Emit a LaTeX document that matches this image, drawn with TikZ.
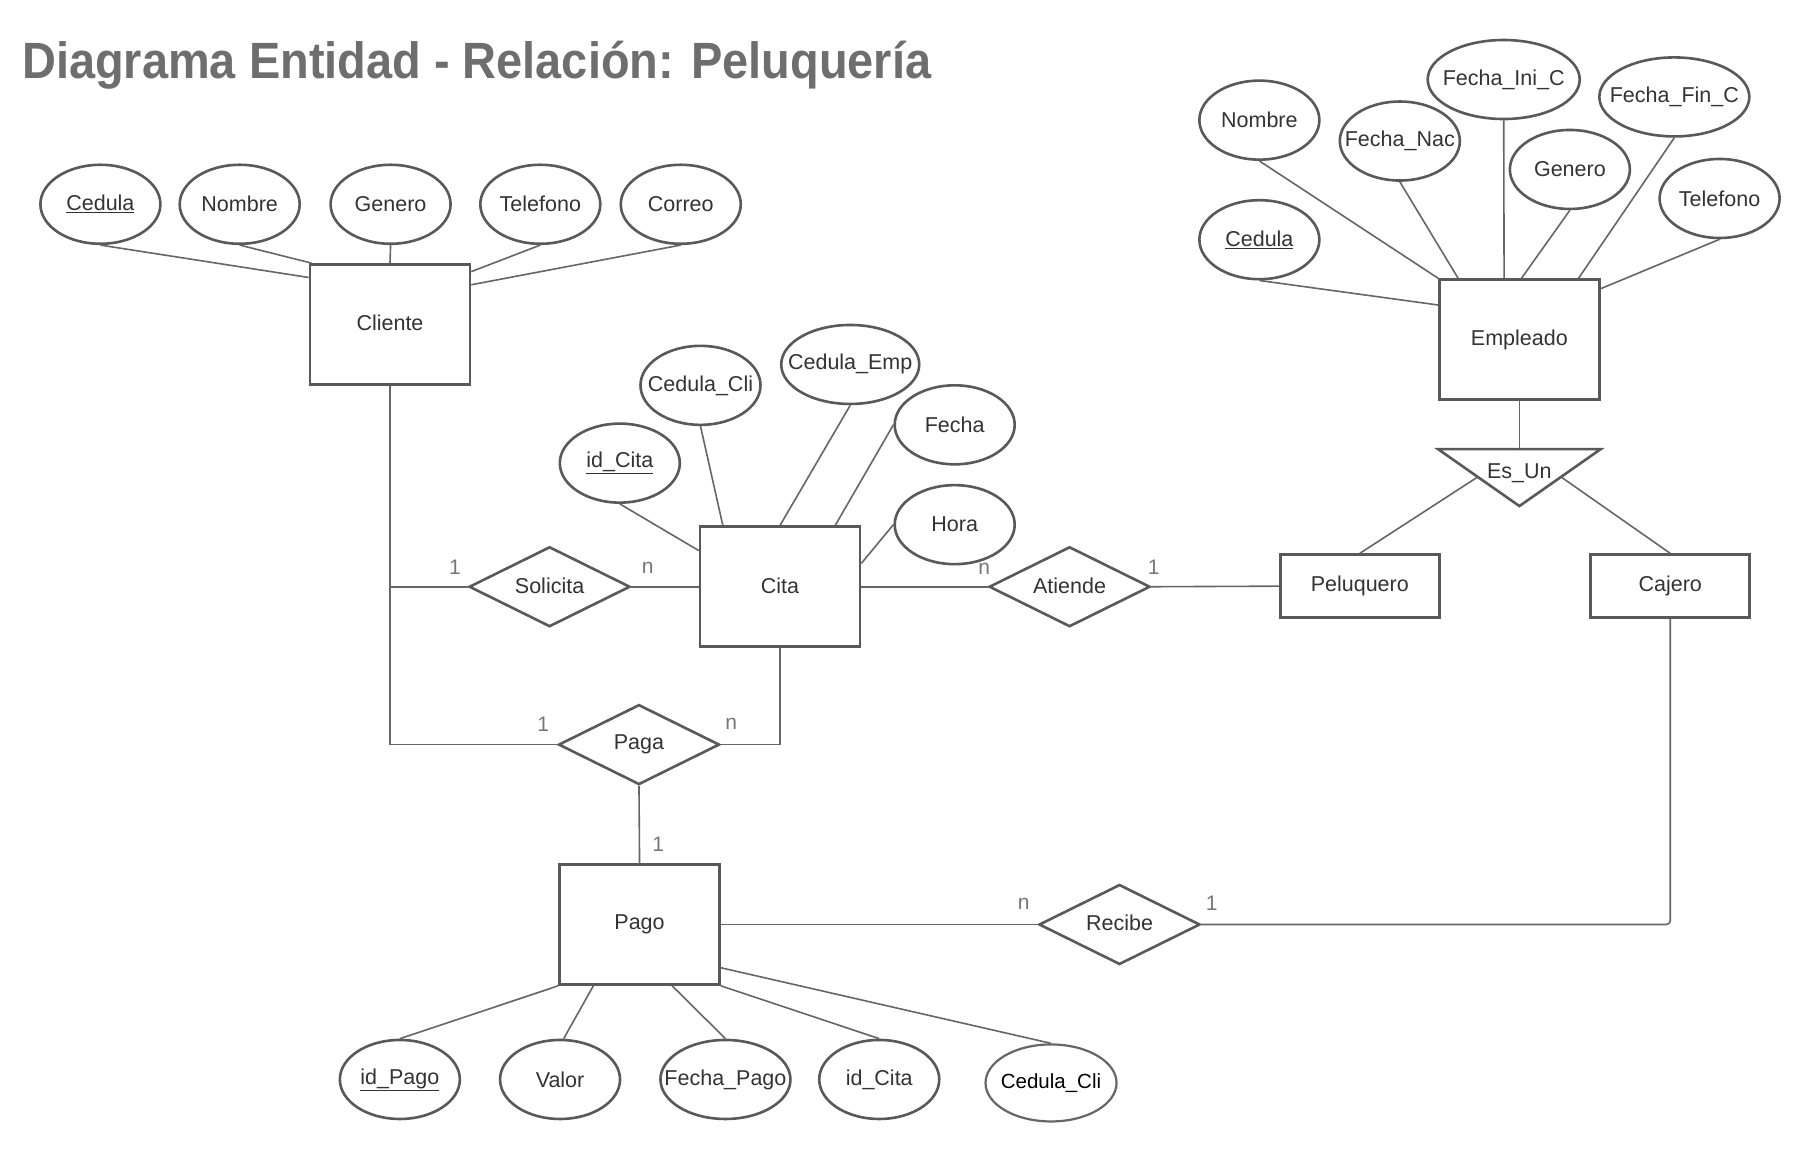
\documentclass[tikz,border=0pt]{standalone}
\usepackage{fontspec}
\setmainfont{Liberation Sans}
\usetikzlibrary{shapes.geometric,calc}
\definecolor{bord}{HTML}{595959}
\definecolor{conn}{HTML}{666666}
\definecolor{txt}{HTML}{333333}
\definecolor{card}{HTML}{777777}
\definecolor{ttl}{HTML}{6E6E6E}
\newcommand\zw[1]{\makebox[0pt][c]{#1}}
\tikzset{
  lbl/.style={font=\fontsize{21.5}{26}\selectfont, text=txt},
  attr/.style={lbl, ellipse, draw=bord, line width=2.6pt, fill=white, minimum width=120pt, minimum height=79pt, inner sep=0pt},
  entity/.style={lbl, rectangle, draw=bord, line width=2.6pt, fill=white, minimum width=160pt, minimum height=120pt, inner sep=0pt},
  subent/.style={lbl, rectangle, draw=bord, line width=2.6pt, fill=white, minimum width=159pt, minimum height=63pt, inner sep=0pt},
  rel/.style={lbl, diamond, aspect=2, draw=bord, line width=2.6pt, fill=white, minimum width=161pt, minimum height=80pt, inner sep=0pt},
  cardl/.style={font=\fontsize{21}{25}\selectfont, text=card, inner sep=0pt},
  link/.style={draw=conn, line width=1.6pt},
  isa/.style={draw=bord, line width=2.6pt, line join=miter}
}
\begin{document}
\begin{tikzpicture}[x=1.1607pt,y=-1.1607pt]
\useasboundingbox[fill=white] (0,0) rectangle (1568,999);

% title
\node[anchor=base west, inner sep=0pt, text=ttl, font=\fontsize{51}{60}\selectfont\bfseries] (title) at (19,68) {\scalebox{0.92}[1]{Diagrama Entidad - Relación: Peluquería}};

% ---------- entities ----------
\node[entity] (cliente) at (336,279.5) {\raisebox{3pt}{Cliente}};
\node[entity] (cita) at (672,505.5) {\raisebox{3pt}{Cita}};
\node[entity] (empleado) at (1309,292.5) {\raisebox{3pt}{Empleado}};
\node[entity] (pago) at (551,796.5) {\raisebox{3pt}{Pago}};
\node[subent] (peluquero) at (1171.5,505) {\raisebox{2pt}{Peluquero}};
\node[subent] (cajero) at (1439,505) {\raisebox{2pt}{Cajero}};

% ---------- relationships ----------
\node[rel] (solicita) at (473.5,505.5) {\raisebox{3pt}{Solicita}};
\node[rel] (atiende) at (921.5,505.5) {\raisebox{3pt}{Atiende}};
\node[rel] (paga) at (550.5,641.5) {Paga};
\node[rel] (recibe) at (964.5,796.5) {\raisebox{3pt}{Recibe}};

% ---------- Cliente attributes ----------
\node[attr] (ccedula) at (86.5,176) {\zw{\underline{Cedula}}};
\node[attr] (cnombre) at (206.5,176) {\zw{Nombre}};
\node[attr] (cgenero) at (336.5,176) {\zw{Genero}};
\node[attr] (ctelefono) at (465.5,176) {\zw{Telefono}};
\node[attr] (ccorreo) at (586.5,176) {\zw{Correo}};

% ---------- Cita attributes ----------
\node[attr] (tidcita) at (534,399) {\zw{\underline{id\_Cita}}};
\node[attr] (tcedcli) at (603.5,332) {\zw{Cedula\_Cli}};
\node[attr, minimum width=138pt] (tcedemp) at (732.5,314) {\zw{\raisebox{5pt}{Cedula\_Emp}}};
\node[attr] (tfecha) at (822.5,366) {\zw{Fecha}};
\node[attr] (thora) at (822.5,452) {\zw{Hora}};

% ---------- Empleado attributes ----------
\node[attr] (enombre) at (1085,103.5) {\zw{Nombre}};
\node[attr] (ecedula) at (1085,206.5) {\zw{\underline{Cedula}}};
\node[attr] (efnac) at (1206,121.5) {\zw{Fecha\_Nac}};
\node[attr, minimum width=152pt] (efini) at (1295.5,68.5) {\zw{\raisebox{2pt}{Fecha\_Ini\_C}}};
\node[attr] (egenero) at (1352.5,146) {\zw{Genero}};
\node[attr, minimum width=150pt] (effin) at (1442.5,83.5) {\zw{\raisebox{2pt}{Fecha\_Fin\_C}}};
\node[attr] (etelefono) at (1481.5,171) {\zw{Telefono}};

% ---------- Pago attributes ----------
\node[attr] (pidpago) at (344.5,930) {\zw{\underline{id\_Pago}}};
\node[attr] (pvalor) at (482.5,930) {\zw{Valor}};
\node[attr, minimum width=130pt] (pfecha) at (625,930) {\zw{Fecha\_Pago}};
\node[attr] (pidcita) at (757.5,930) {\zw{id\_Cita}};
\node[attr, minimum width=131pt, minimum height=77pt, draw=conn, line width=2.2pt, text=black, font=\fontsize{20.5}{24}\selectfont] (pcedcli) at (905.5,933) {\zw{Cedula\_Cli}};

% ---------- ISA triangle ----------
\coordinate (estl) at (1239,387);
\coordinate (estr) at (1379,387);
\coordinate (esap) at (1309,436);
\coordinate (estop) at (1309,387);
\coordinate (esl) at (1273,411);
\coordinate (esr) at (1345,411);
\draw[isa, fill=white] (estl) -- (estr) -- (esap) -- cycle;
\node[lbl, inner sep=0pt] (esun) at (1309,408) {Es\_Un};

% ---------- attribute links ----------
\draw[link] (ccedula.south) -- (cliente.150);
\draw[link] (cnombre.south) -- (cliente.142);
\draw[link] (cgenero.south) -- (cliente.north);
\draw[link] (ctelefono.south) -- (cliente.33);
\draw[link] (ccorreo.south) -- (cliente.26);

\draw[link] (tidcita.south) -- (cita.156);
\draw[link] (tcedcli.south) -- (cita.133);
\draw[link] (tcedemp.south) -- (cita.north);
\draw[link] (tfecha.west) -- (cita.48);
\draw[link] (thora.west) -- (cita.16);

\draw[link] (enombre.south) -- (empleado.north west);
\draw[link] (ecedula.south) -- (empleado.157);
\draw[link] (efnac.south) -- (empleado.135);
\draw[link] (efini.south) -- (empleado.104);
\draw[link] (egenero.south) -- (empleado.88);
\draw[link] (effin.south) -- (empleado.46);
\draw[link] (etelefono.south) -- (empleado.32);

\draw[link] (pidpago.north) -- (pago.south west);
\draw[link] (pvalor.85) -- (pago.233);
\draw[link] (pfecha.north) -- (pago.298);
\draw[link] (pidcita.north) -- (pago.south east);
\draw[link] (pcedcli.north) -- (pago.332);

% ---------- relationship links ----------
\draw[link] (cliente.south) |- (paga.west);
\draw[link] (cliente.south |- solicita.west) -- (solicita.west);
\draw[link] (solicita.east) -- (cita.west);
\draw[link] (cita.east) -- (atiende.west);
\draw[link] (atiende.east) -- (peluquero.west);
\draw[link] (paga.east) -| (cita.south);
\draw[link] (paga.south) -- (pago.north);
\draw[link] (pago.east) -- (recibe.west);
\draw[link, rounded corners=4pt] (recibe.east) -| (cajero.south);
\draw[link] (empleado.south) -- (estop);
\draw[link] (esl) -- (peluquero.north);
\draw[link] (esr) -- (cajero.north);

% ---------- cardinalities ----------
\node[cardl] (c1) at (392,489) {1};
\node[cardl] (c2) at (558,489) {n};
\node[cardl] (c3) at (848,490) {n};
\node[cardl] (c4) at (994,489) {1};
\node[cardl] (c5) at (468,624) {1};
\node[cardl] (c6) at (630,624) {n};
\node[cardl] (c7) at (567,727) {1};
\node[cardl] (c8) at (882,779) {n};
\node[cardl] (c9) at (1044,778) {1};
\end{tikzpicture}
\end{document}
